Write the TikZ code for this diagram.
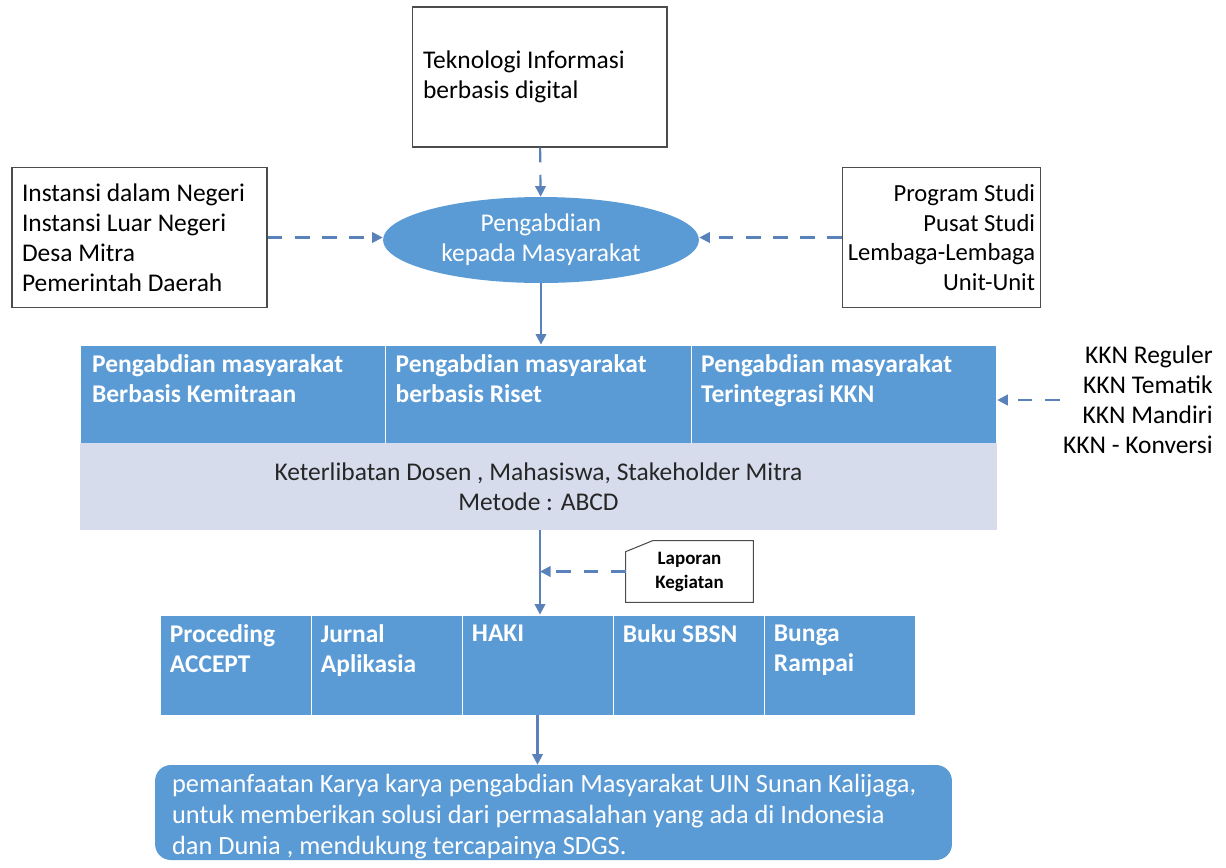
\documentclass[tikz,border=0pt]{standalone}
\usepackage{fontspec}
\setmainfont{Carlito}
\usetikzlibrary{calc,shapes.geometric,arrows.meta}
\definecolor{biru}{RGB}{91,155,213}
\definecolor{birumuda}{RGB}{214,220,236}
\definecolor{garis}{RGB}{88,130,185}
\tikzset{
  kotak/.style={draw=black!70,line width=0.6pt,minimum height=2.8cm,inner ysep=0pt},
  sel/.style={fill=biru,draw=white,line width=0.5pt,minimum width=6.113cm,minimum height=1.96cm,inner sep=0pt},
  selb/.style={fill=biru,draw=white,line width=0.5pt,minimum width=3.02cm,minimum height=2cm,inner sep=0pt},
  judul/.style={anchor=north west,inner sep=0pt,text=white,font=\fontsize{14.5}{17}\selectfont\bfseries,align=flush left},
  panah/.style={draw=garis,line width=1.2pt,-{Triangle[length=6pt,width=6pt]}},
  putus/.style={draw=garis,line width=1.2pt,dash pattern=on 8.5pt off 7pt,-{Triangle[length=6pt,width=6pt]}}
}
\begin{document}
\begin{tikzpicture}[x=0.02cm,y=-0.02cm,font=\fontsize{14.5}{17}\selectfont]

\useasboundingbox (0,0) rectangle (1226,867);

% Sumber

\node[kotak,text width=4.66cm,inner xsep=0.22cm,align=flush left] (ti) at (539.5,77) {Teknologi Informasi\\berbasis digital};
\node[kotak,text width=4.7cm,inner xsep=0.2cm,align=flush left] (luar) at (139.5,237.5) {Instansi dalam Negeri\\Instansi Luar Negeri\\Desa Mitra\\Pemerintah Daerah};
\node[kotak,minimum width=3.94cm,inner xsep=0.1cm,align=flush right,font=\fontsize{14}{17}\selectfont] (dalam) at (941.5,237.5) {Program Studi\\Pusat Studi\\Lembaga-Lembaga\\Unit-Unit};

\node[ellipse,fill=biru,minimum width=6.32cm,minimum height=1.72cm,inner sep=0pt,text=white,align=center] (pkm) at (541,240) {Pengabdian\\kepada Masyarakat};

\draw[putus] (ti) -- (pkm);
\draw[putus] (luar.east) -- (luar.east -| pkm.west);
\draw[putus] (dalam.west) -- (dalam.west -| pkm.east);

% Pita skema

\node[sel] (s1) at (233,394) {};
\node[sel] (s2) at (538.5,394) {};
\node[sel] (s3) at (844,394) {};
\node[judul] (t1) at ($(s1.north west)+(12,10)$) {Pengabdian masyarakat\\Berbasis Kemitraan};
\node[judul] (t2) at ($(s2.north west)+(10,10)$) {Pengabdian masyarakat\\berbasis Riset};
\node[judul] (t3) at ($(s3.north west)+(10,10)$) {Pengabdian masyarakat\\Terintegrasi KKN};

\node[fill=birumuda,minimum width=18.34cm,minimum height=1.74cm,inner sep=0pt,align=center,text=black!85] (libat) at (538.5,486.5) {Keterlibatan Dosen , Mahasiswa, Stakeholder Mitra\\Metode : ABCD};

\draw[panah] (pkm.south) -- (pkm.south |- s2.north);

\node[anchor=east,align=flush right,inner sep=0pt] (kkn) at (1213,400) {KKN Reguler\\KKN Tematik\\KKN Mandiri\\KKN - Konversi};
\draw[putus] ($(kkn.west)+(-3,0)$) -- (kkn.west -| s3.east);

% Luaran

\node[selb] (b1) at (235.5,665) {};
\node[selb] (b2) at (386.5,665) {};
\node[selb] (b3) at (537.5,665) {};
\node[selb] (b4) at (688.5,665) {};
\node[selb] (b5) at (839.5,665) {};
\node[judul] (u1) at ($(b1.north west)+(10,10)$) {Proceding\\ACCEPT};
\node[judul] (u2) at ($(b2.north west)+(10,10)$) {Jurnal\\Aplikasia};
\node[judul] (u3) at ($(b3.north west)+(10,10)$) {HAKI};
\node[judul] (u4) at ($(b4.north west)+(10,10)$) {Buku SBSN};
\node[judul] (u5) at ($(b5.north west)+(10,10)$) {Bunga\\Rampai};

\coordinate (atas) at (540,530);
\draw[panah] (atas) -- (atas |- b3.north);

\node[minimum width=2.54cm,minimum height=1.22cm,inner sep=0pt,align=center,font=\fontsize{10.8}{13.6}\selectfont\bfseries] (lap) at (689.5,571.5) {Laporan\\Kegiatan};
\draw[black!70,line width=0.6pt] ($(lap.north west)+(0,11)$) -- ($(lap.north west)+(27,0)$) -- (lap.north east) -- (lap.south east) -- (lap.south west) -- cycle;
\draw[putus] (lap.west) -- (lap.west -| atas);

\node[fill=biru,rounded corners=9pt,minimum width=15.94cm,minimum height=1.9cm,inner sep=0pt] (manfaat) at (553.5,812.5) {};
\node[anchor=west,inner sep=0pt,align=flush left,text=white,font=\fontsize{15}{17.5}\selectfont] (isi) at ($(manfaat.west)+(17,4)$) {pemanfaatan Karya karya pengabdian Masyarakat UIN Sunan Kalijaga,\\untuk memberikan solusi dari permasalahan yang ada di Indonesia\\dan Dunia , mendukung tercapainya SDGS.};

\draw[panah] (b3.south) -- (b3.south |- manfaat.north);

\end{tikzpicture}
\end{document}
